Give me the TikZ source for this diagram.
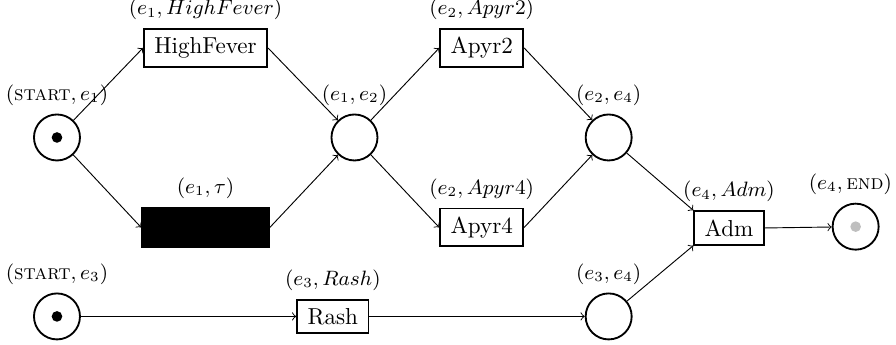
\documentclass[tikz,border=0pt]{standalone}

\begin{document}
\begin{tikzpicture}
[placedecorate/.style={shape=circle,minimum size=7mm,inner sep=0pt,draw,thick},%
  transdecorate/.style={shape=rectangle,draw,thick,inner xsep=4.5pt,inner ysep=3.6pt},%
  silentdecorate/.style={shape=rectangle,draw,thick,fill=black,minimum width=1.93cm,minimum height=6mm},%
  arcdecorate/.style={->},%
  every label/.style={font=\small}]
\useasboundingbox (0,0) rectangle (13.634,5.249);
%% places
\foreach \nodename/\x/\y/\lbl in {start1/0.867/3.157/{$(\textsc{start},e_1)$},
  p12/5.394/3.157/{$(e_1,e_2)$}, p24/9.262/3.157/{$(e_2,e_4)$},
  start3/0.867/0.434/{$(\textsc{start},e_3)$}, p34/9.262/0.434/{$(e_3,e_4)$}} {
  \node (\nodename) at (\x,\y) [placedecorate,label={above:\lbl}] {};
}
\node (fin) at (13.020,1.800) [placedecorate,label={[xshift=-0.8mm]above:$(e_4,\textsc{end})$}] {};
%% tokens
\foreach \nodename in {start1, start3} {
  \fill (\nodename) circle (2.3pt);
}
\fill[gray!50] (fin) circle (2.3pt);
%% transitions
\foreach \nodename/\x/\y/\txt/\lbl in {hifever/3.127/4.519/HighFever/{$(e_1,HighFever)$},
  apyr2/7.330/4.519/Apyr2/{$(e_2,Apyr2)$}, apyr4/7.330/1.788/Apyr4/{$(e_2,Apyr4)$},
  adm/11.093/1.780/Adm/{$(e_4,Adm)$}, rash/5.064/0.434/Rash/{$(e_3,Rash)$}} {
  \node (\nodename) at (\x,\y) [transdecorate,label={above:\lbl}] {\txt};
}
\node (tau) at (3.127,1.788) [silentdecorate,label={above:$(e_1,\tau)$}] {};
%% arcs
\path
\foreach \startnode/\endnode in {start1/hifever.west, start1/tau.west,
  hifever.east/p12, tau.east/p12, p12/apyr2.west, p12/apyr4.west,
  apyr2.east/p24, apyr4.east/p24, p24/adm.north west, p34/adm.south west,
  adm.east/fin, start3/rash.west, rash.east/p34}
{
  (\startnode) edge[arcdecorate] (\endnode)
};
\end{tikzpicture}
\end{document}
